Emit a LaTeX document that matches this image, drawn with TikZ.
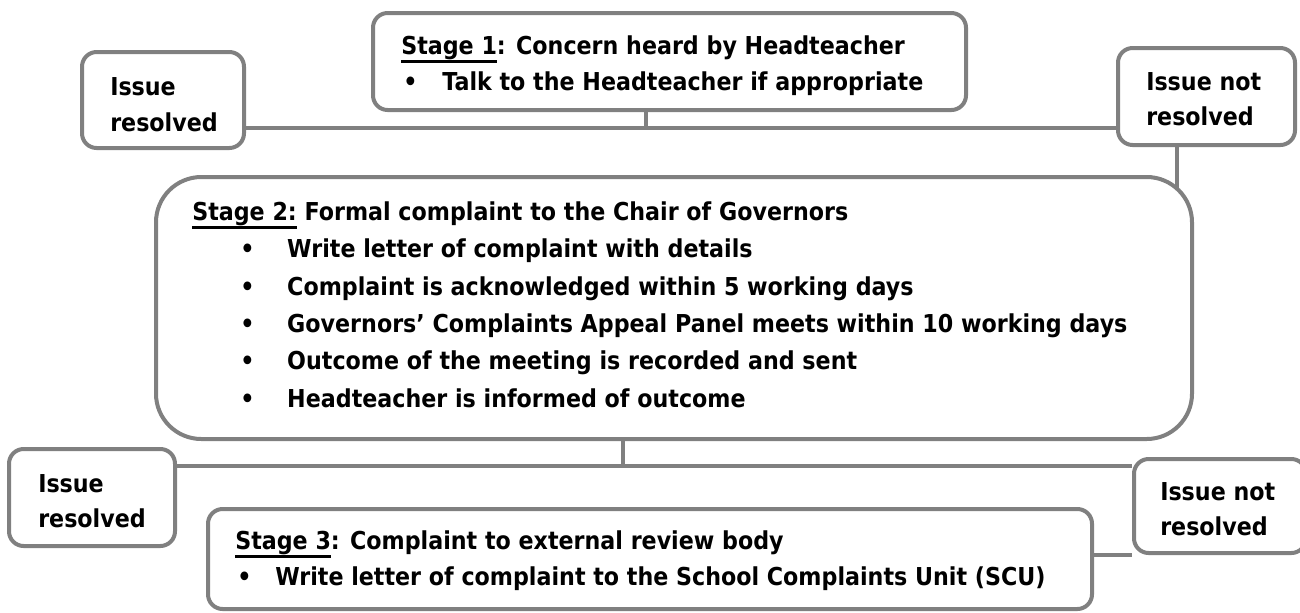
\documentclass[tikz,border=0pt]{standalone}
\usepackage{fontspec}
\setmainfont{DejaVu Sans}[FakeStretch=0.9]
\definecolor{boxgray}{RGB}{128,128,128}
\newcommand{\stagemark}[1]{\setbox0\hbox{#1}\rlap{\rule[-6.4pt]{\wd0}{1.6pt}}\box0\relax}
\tikzset{
  stagebox/.style={draw=boxgray, line width=3pt, rounded corners=11pt, fill=white, inner sep=0pt},
  boxtext/.style={anchor=base west, inner sep=0pt, font=\fontsize{18.5}{22}\selectfont\bfseries},
  link/.style={draw=boxgray, line width=3pt}
}

\begin{document}
\begin{tikzpicture}[x=0.75pt,y=0.75pt,yscale=-1,xscale=1]
\useasboundingbox (0,0) rectangle (1300,612);

%Shape: Rounded Rect [id:stage1]
\node [stagebox, minimum width=444.75pt, minimum height=72.75pt] (s1) at (669.5,61.5) {};
%Shape: Rounded Rect [id:resolved1]
\node [stagebox, minimum width=121.5pt, minimum height=72pt] (ir1) at (163,100) {};
%Shape: Rounded Rect [id:notresolved1]
\node [stagebox, minimum width=132.75pt, minimum height=72.75pt] (inr1) at (1206.5,96.5) {};
%Shape: Rounded Rect [id:stage2]
\node [stagebox, rounded corners=34pt, minimum width=777pt, minimum height=196.5pt] (s2) at (674,308) {};
%Shape: Rounded Rect [id:resolved2]
\node [stagebox, minimum width=124.5pt, minimum height=72.75pt] (ir2) at (92,497.5) {};
%Shape: Rounded Rect [id:notresolved2]
\node [stagebox, minimum width=129pt, minimum height=70.5pt] (inr2) at (1220,506) {};
%Shape: Rounded Rect [id:stage3]
\node [stagebox, minimum width=663pt, minimum height=75pt] (s3) at (650,559) {};

%Straight Lines [id:links]
\coordinate (j1) at (646,128);
\coordinate (j2) at (1177,189);
\coordinate (j3) at (623,466);
\coordinate (j4) at (1113,555);
\draw [link] (j1 |- s1.south) -- (j1);
\draw [link] (ir1.east |- j1) -- (inr1.west |- j1);
\draw [link] (j2 |- inr1.south) -- (j2);
\draw [link] (j3 |- s2.south) -- (j3);
\draw [link] (ir2.east |- j3) -- (inr2.west |- j3);
\draw [link] (s3.east |- j4) -- (inr2.west |- j4);

% Text Node
\begin{scope}
\clip (380,20) rectangle (960,96);
\node [boxtext] (t1a) at (401,54) {\stagemark{Stage 1}: Concern heard by Headteacher};
\node [boxtext] (t1b) at (403,90) {\makebox[29.25pt][l]{\textbullet}Talk to the Headteacher if appropriate};
\end{scope}
% Text Node
\node [boxtext] (r1a) at (110,95) {Issue};
\node [boxtext] (r1b) at (110,131) {resolved};
% Text Node
\node [boxtext] (n1a) at (1146,90) {Issue not};
\node [boxtext] (n1b) at (1146,125) {resolved};
% Text Node
\node [boxtext] (t2a) at (192,220) {\stagemark{Stage 2:} Formal complaint to the Chair of Governors};
\node [boxtext] (t2b) at (240,257) {\makebox[35.25pt][l]{\textbullet}Write letter of complaint with details};
\node [boxtext] (t2c) at (240,295) {\makebox[35.25pt][l]{\textbullet}Complaint is acknowledged within 5 working days};
\node [boxtext] (t2d) at (240,332) {\makebox[35.25pt][l]{\textbullet}Governors’ Complaints Appeal Panel meets within 10 working days};
\node [boxtext] (t2e) at (240,369) {\makebox[35.25pt][l]{\textbullet}Outcome of the meeting is recorded and sent};
\node [boxtext] (t2f) at (240,407) {\makebox[35.25pt][l]{\textbullet}Headteacher is informed of outcome};
% Text Node
\node [boxtext] (r2a) at (38,492) {Issue};
\node [boxtext] (r2b) at (38,527) {resolved};
% Text Node
\node [boxtext] (n2a) at (1160,500) {Issue not};
\node [boxtext] (n2b) at (1160,535) {resolved};
% Text Node
\node [boxtext] (t3a) at (235,549) {\stagemark{Stage 3}: Complaint to external review body};
\node [boxtext] (t3b) at (237,585) {\makebox[28.5pt][l]{\textbullet}Write letter of complaint to the School Complaints Unit (SCU)};

\end{tikzpicture}
\end{document}
